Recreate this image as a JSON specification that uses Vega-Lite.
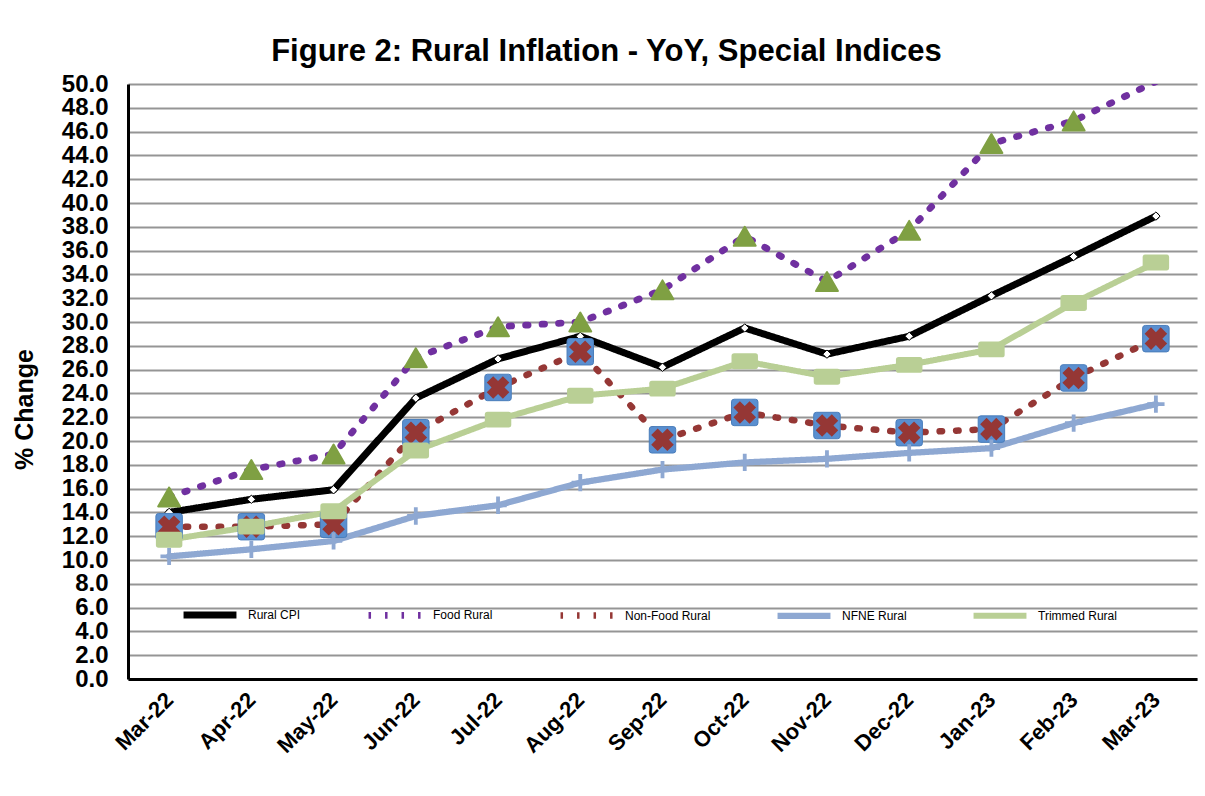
{
  "$schema": "https://vega.github.io/schema/vega-lite/v6.json",
  "autosize": "none",
  "width": 1069,
  "height": 595,
  "padding": {"left": 128, "top": 84, "right": 8, "bottom": 117},
  "background": "white",
  "title": {
    "text": "Figure 2: Rural Inflation - YoY, Special Indices",
    "font": "Liberation Sans, Arial, sans-serif",
    "fontSize": 31,
    "fontWeight": "bold",
    "color": "black",
    "anchor": "middle",
    "frame": "group",
    "baseline": "alphabetic",
    "dx": -56,
    "offset": -20
  },
  "config": {
    "view": {"stroke": null},
    "axis": {"grid": false}
  },
  "data": {
    "values": [
      {"month": "Mar-22", "series": "Rural CPI", "value": 14.0},
      {"month": "Apr-22", "series": "Rural CPI", "value": 15.1},
      {"month": "May-22", "series": "Rural CPI", "value": 15.9},
      {"month": "Jun-22", "series": "Rural CPI", "value": 23.6},
      {"month": "Jul-22", "series": "Rural CPI", "value": 26.9},
      {"month": "Aug-22", "series": "Rural CPI", "value": 28.8},
      {"month": "Sep-22", "series": "Rural CPI", "value": 26.2},
      {"month": "Oct-22", "series": "Rural CPI", "value": 29.5},
      {"month": "Nov-22", "series": "Rural CPI", "value": 27.3},
      {"month": "Dec-22", "series": "Rural CPI", "value": 28.8},
      {"month": "Jan-23", "series": "Rural CPI", "value": 32.2},
      {"month": "Feb-23", "series": "Rural CPI", "value": 35.5},
      {"month": "Mar-23", "series": "Rural CPI", "value": 38.9},
      {"month": "Mar-22", "series": "Food Rural", "value": 15.3},
      {"month": "Apr-22", "series": "Food Rural", "value": 17.6},
      {"month": "May-22", "series": "Food Rural", "value": 18.9},
      {"month": "Jun-22", "series": "Food Rural", "value": 27.0},
      {"month": "Jul-22", "series": "Food Rural", "value": 29.6},
      {"month": "Aug-22", "series": "Food Rural", "value": 30.0},
      {"month": "Sep-22", "series": "Food Rural", "value": 32.7},
      {"month": "Oct-22", "series": "Food Rural", "value": 37.2},
      {"month": "Nov-22", "series": "Food Rural", "value": 33.4},
      {"month": "Dec-22", "series": "Food Rural", "value": 37.7},
      {"month": "Jan-23", "series": "Food Rural", "value": 45.0},
      {"month": "Feb-23", "series": "Food Rural", "value": 46.9},
      {"month": "Mar-23", "series": "Food Rural", "value": 50.2},
      {"month": "Mar-22", "series": "Non-Food Rural", "value": 12.8},
      {"month": "Apr-22", "series": "Non-Food Rural", "value": 12.8},
      {"month": "May-22", "series": "Non-Food Rural", "value": 13.0},
      {"month": "Jun-22", "series": "Non-Food Rural", "value": 20.7},
      {"month": "Jul-22", "series": "Non-Food Rural", "value": 24.5},
      {"month": "Aug-22", "series": "Non-Food Rural", "value": 27.5},
      {"month": "Sep-22", "series": "Non-Food Rural", "value": 20.1},
      {"month": "Oct-22", "series": "Non-Food Rural", "value": 22.4},
      {"month": "Nov-22", "series": "Non-Food Rural", "value": 21.3},
      {"month": "Dec-22", "series": "Non-Food Rural", "value": 20.7},
      {"month": "Jan-23", "series": "Non-Food Rural", "value": 21.0},
      {"month": "Feb-23", "series": "Non-Food Rural", "value": 25.3},
      {"month": "Mar-23", "series": "Non-Food Rural", "value": 28.6},
      {"month": "Mar-22", "series": "NFNE Rural", "value": 10.3},
      {"month": "Apr-22", "series": "NFNE Rural", "value": 10.9},
      {"month": "May-22", "series": "NFNE Rural", "value": 11.6},
      {"month": "Jun-22", "series": "NFNE Rural", "value": 13.7},
      {"month": "Jul-22", "series": "NFNE Rural", "value": 14.6},
      {"month": "Aug-22", "series": "NFNE Rural", "value": 16.5},
      {"month": "Sep-22", "series": "NFNE Rural", "value": 17.6},
      {"month": "Oct-22", "series": "NFNE Rural", "value": 18.2},
      {"month": "Nov-22", "series": "NFNE Rural", "value": 18.5},
      {"month": "Dec-22", "series": "NFNE Rural", "value": 19.0},
      {"month": "Jan-23", "series": "NFNE Rural", "value": 19.4},
      {"month": "Feb-23", "series": "NFNE Rural", "value": 21.5},
      {"month": "Mar-23", "series": "NFNE Rural", "value": 23.1},
      {"month": "Mar-22", "series": "Trimmed Rural", "value": 11.7},
      {"month": "Apr-22", "series": "Trimmed Rural", "value": 12.8},
      {"month": "May-22", "series": "Trimmed Rural", "value": 14.1},
      {"month": "Jun-22", "series": "Trimmed Rural", "value": 19.2},
      {"month": "Jul-22", "series": "Trimmed Rural", "value": 21.8},
      {"month": "Aug-22", "series": "Trimmed Rural", "value": 23.8},
      {"month": "Sep-22", "series": "Trimmed Rural", "value": 24.4},
      {"month": "Oct-22", "series": "Trimmed Rural", "value": 26.7},
      {"month": "Nov-22", "series": "Trimmed Rural", "value": 25.4},
      {"month": "Dec-22", "series": "Trimmed Rural", "value": 26.4},
      {"month": "Jan-23", "series": "Trimmed Rural", "value": 27.7},
      {"month": "Feb-23", "series": "Trimmed Rural", "value": 31.6},
      {"month": "Mar-23", "series": "Trimmed Rural", "value": 35.0}
    ]
  },
  "encoding": {
    "x": {
      "field": "month",
      "type": "ordinal",
      "sort": null,
      "scale": {"type": "point", "padding": 0.5},
      "axis": {
        "title": null,
        "labelAngle": -45,
        "labelAlign": "right",
        "labelBaseline": "middle",
        "labelFont": "Liberation Sans, Arial, sans-serif",
        "labelFontSize": 22,
        "labelFontWeight": "bold",
        "labelColor": "black",
        "labelPadding": 17,
        "ticks": false,
        "tickSize": 0,
        "domainColor": "black",
        "domainWidth": 3,
        "grid": false
      }
    },
    "y": {
      "field": "value",
      "type": "quantitative",
      "scale": {"domain": [0, 50], "nice": false, "zero": true},
      "axis": {
        "title": "% Change",
        "titleFont": "Liberation Sans, Arial, sans-serif",
        "titleFontSize": 25,
        "titleFontWeight": "bold",
        "titleColor": "black",
        "titlePadding": 24,
        "titleY": 325,
        "values": [0, 2, 4, 6, 8, 10, 12, 14, 16, 18, 20, 22, 24, 26, 28, 30, 32, 34, 36, 38, 40, 42, 44, 46, 48, 50],
        "format": ".1f",
        "labelFont": "Liberation Sans, Arial, sans-serif",
        "labelFontSize": 24,
        "labelFontWeight": "bold",
        "labelColor": "black",
        "labelPadding": 20,
        "labelOverlap": false,
        "labelBound": false,
        "ticks": false,
        "tickSize": 0,
        "domainColor": "black",
        "domainWidth": 3,
        "grid": true,
        "gridColor": "#959595",
        "gridWidth": 2
      }
    }
  },
  "layer": [
    {
      "mark": {"type": "line", "clip": true, "strokeJoin": "miter", "strokeCap": "round"},
      "encoding": {
        "color": {
          "field": "series",
          "type": "nominal",
          "scale": {
            "domain": ["Rural CPI", "Food Rural", "Non-Food Rural", "NFNE Rural", "Trimmed Rural"],
            "range": ["#000000", "#7030A0", "#953735", "#8EA8D2", "#B9CF95"]
          },
          "legend": {
            "title": null,
            "orient": "none",
            "legendX": 52,
            "legendY": 501,
            "direction": "horizontal",
            "columns": 5,
            "columnPadding": 54,
            "symbolType": "stroke",
            "symbolSize": 2800,
            "symbolStrokeWidth": 4,
            "labelFont": "Liberation Sans, Arial, sans-serif",
            "labelFontSize": 12,
            "labelColor": "black",
            "labelOffset": 8
          }
        },
        "strokeDash": {
          "field": "series",
          "type": "nominal",
          "scale": {
            "domain": ["Rural CPI", "Food Rural", "Non-Food Rural", "NFNE Rural", "Trimmed Rural"],
            "range": [[1, 0], [2.5, 14], [2.5, 14], [1, 0], [1, 0]]
          },
          "legend": {
            "title": null,
            "orient": "none",
            "legendX": 52,
            "legendY": 501,
            "direction": "horizontal",
            "columns": 5,
            "columnPadding": 54,
            "symbolType": "stroke",
            "symbolSize": 2800,
            "symbolStrokeWidth": 4,
            "labelFont": "Liberation Sans, Arial, sans-serif",
            "labelFontSize": 12,
            "labelColor": "black",
            "labelOffset": 8
          }
        },
        "strokeWidth": {
          "field": "series",
          "type": "nominal",
          "scale": {
            "domain": ["Rural CPI", "Food Rural", "Non-Food Rural", "NFNE Rural", "Trimmed Rural"],
            "range": [7, 6, 6, 4, 5]
          },
          "legend": null
        }
      }
    },
    {
      "transform": [{"filter": "datum.series === 'Rural CPI'"}],
      "mark": {"type": "point", "shape": "diamond", "filled": true, "fill": "white", "stroke": "black", "strokeWidth": 1, "size": 70, "opacity": 1}
    },
    {
      "transform": [{"filter": "datum.series === 'Food Rural' && datum.value <= 50"}],
      "mark": {"type": "point", "shape": "triangle-up", "filled": true, "fill": "#7FA043", "stroke": "#7FA043", "strokeWidth": 2, "strokeJoin": "round", "size": 480, "opacity": 1}
    },
    {
      "transform": [{"filter": "datum.series === 'Non-Food Rural'"}],
      "mark": {"type": "point", "shape": "M-0.8,-1H0.8Q1,-1 1,-0.8V0.8Q1,1 0.8,1H-0.8Q-1,1 -1,0.8V-0.8Q-1,-1 -0.8,-1Z", "filled": true, "fill": "#5A8FD0", "stroke": "#4A7EBB", "strokeWidth": 1, "size": 700, "opacity": 1}
    },
    {
      "transform": [{"filter": "datum.series === 'Non-Food Rural'"}],
      "mark": {"type": "point", "shape": "cross", "angle": 45, "filled": true, "fill": "#953735", "strokeWidth": 0, "size": 520, "opacity": 1}
    },
    {
      "transform": [{"filter": "datum.series === 'NFNE Rural'"}],
      "mark": {"type": "point", "shape": "M-1,-0.22H1V0.22H-1Z M-0.22,-1H0.22V1H-0.22Z", "filled": true, "fill": "#8EA8D2", "strokeWidth": 0, "size": 300, "opacity": 1}
    },
    {
      "transform": [{"filter": "datum.series === 'Trimmed Rural'"}],
      "mark": {"type": "point", "shape": "M-0.8,-0.6H0.8Q1,-0.6 1,-0.4V0.4Q1,0.6 0.8,0.6H-0.8Q-1,0.6 -1,0.4V-0.4Q-1,-0.6 -0.8,-0.6Z", "filled": true, "fill": "#B9CF95", "strokeWidth": 0, "size": 700, "opacity": 1}
    }
  ]
}
